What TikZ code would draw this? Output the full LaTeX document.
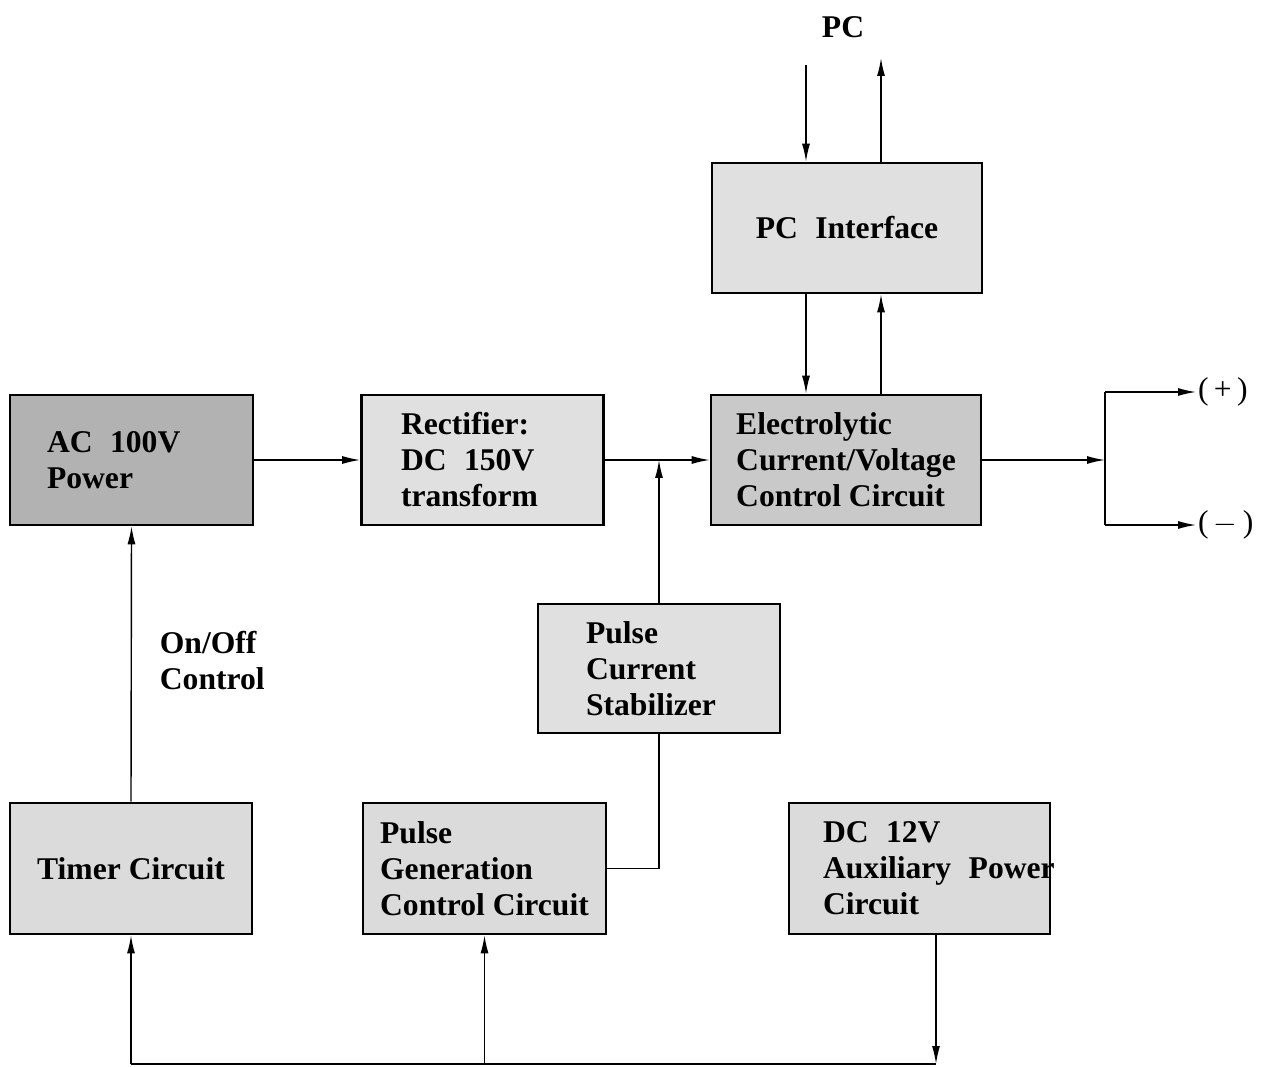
\documentclass[tikz,border=0pt]{standalone}
\usepackage{fontspec}
\setmainfont{Liberation Serif}
\usetikzlibrary{arrows.meta,positioning}
\newcommand{\gap}{\kern0.55em}

\begin{document}
\begin{tikzpicture}[x=0.02cm,y=-0.02cm,>={Latex[length=3.6mm,width=1.6mm]},
  blk/.style={draw,line width=1.5pt,fill=gray!24,align=left,inner sep=0pt,
    minimum width=4.84cm,minimum height=2.6cm,
    font=\bfseries\fontsize{18pt}{20.5pt}\selectfont},
  lbl/.style={align=left,inner sep=2pt,font=\bfseries\fontsize{18pt}{20.5pt}\selectfont},
  wire/.style={line width=0.8pt}]
\useasboundingbox (0,0) rectangle (1265,1067);

\node[blk,fill=gray!60,text width=3.38cm,inner xsep=0.74cm] (ac) at (131.5,460) {AC\gap100V\\Power};
\node[blk,text width=3.26cm,inner xsep=0.79cm] (rect) at (482.5,460) {Rectifier:\\DC\gap150V\\transform};
\node[blk,fill=gray!42,minimum width=5.4cm] (elec) at (846,460) {Electrolytic\\Current/Voltage\\Control Circuit};
\node[blk,minimum width=5.4cm] (pci) at (847,228) {PC\gap Interface};
\node[blk,minimum height=2.58cm,text width=2.92cm,inner xsep=0.96cm] (stab) at (659,668.5) {Pulse\\Current\\Stabilizer};
\node[blk,fill=gray!28,minimum height=2.62cm] (timer) at (131,868.5) {Timer Circuit};
\node[blk,fill=gray!28,minimum width=4.86cm,minimum height=2.62cm] (pgen) at (484.5,868.5) {Pulse\\Generation\\Control Circuit};
\node[blk,fill=gray!28,minimum width=5.22cm,minimum height=2.62cm,text width=3.86cm,inner xsep=0.68cm] (aux) at (919.5,868.5) {DC\gap12V\\Auxiliary\gap Power\\Circuit};

\node[lbl] (pc) at (843,27) {PC};
\node[lbl,anchor=west] (onoff) at (156,661) {On/Off\\Control};
\node[font=\fontsize{18pt}{20.5pt}\selectfont,anchor=west,inner sep=1pt] (plus) at (1196,392) {(\,+\,)};
\node[font=\fontsize{18pt}{20.5pt}\selectfont,anchor=west,inner sep=1pt] (minus) at (1196,525) {(\,$-$\,)};

\coordinate (pcin) at (806,65);
\coordinate (pcout) at (881,58);
\coordinate (split) at (1105,460);
\coordinate (auxout) at (936,934);
\coordinate (bus) at (936,1064);

\draw[wire,->] (ac) -- (rect);
\draw[wire,->] (rect.east) -- (elec.west);
\draw[wire,->] (stab.north) -- (stab.north |- rect.east);
\draw[wire] (pgen.east) -| (stab.south);

\draw[wire,->] (pcin) -- (pcin |- pci.north);
\draw[wire,->] (pcout |- pci.north) -- (pcout);
\draw[wire,->] (pcin |- pci.south) -- (pcin |- elec.north);
\draw[wire,->] (pcout |- elec.north) -- (pcout |- pci.south);

\draw[wire,->] (elec.east) -- (split);
\draw[wire] (split |- plus) -- (split |- minus);
\draw[wire,->] (split |- plus) -- (plus.west);
\draw[wire,->] (split |- minus) -- (minus.west);

\draw[wire,->] (timer.north) -- (ac.south);

\draw[wire,->] (auxout) -- (bus);
\draw[wire] (bus) -- (bus -| timer.south);
\draw[wire,->] (bus -| timer.south) -- (timer.south);
\draw[wire,->] (bus -| pgen.south) -- (pgen.south);
\end{tikzpicture}
\end{document}
